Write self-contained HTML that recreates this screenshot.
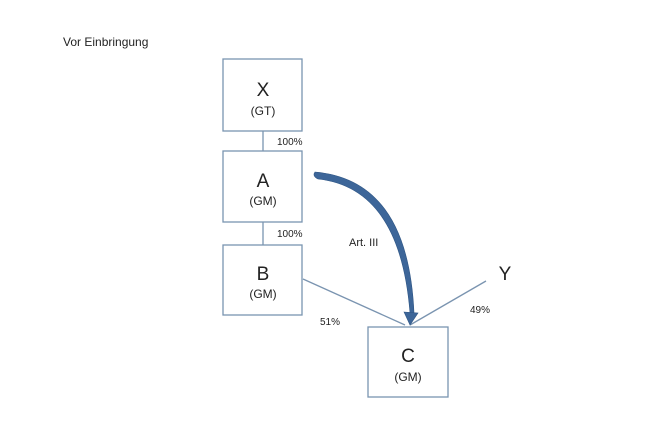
<!DOCTYPE html>
<html><head><meta charset="utf-8"><style>
body{margin:0;background:#fff;width:647px;height:443px;overflow:hidden}
svg{display:block}
text{font-family:"Liberation Sans",sans-serif;fill:#222}
</style></head><body>
<svg width="647" height="443" viewBox="0 0 647 443">
<text x="63" y="46" font-size="12">Vor Einbringung</text>
<g fill="none" stroke="#7a94b0" stroke-width="1.3">
<rect x="223" y="59" width="79" height="72"/>
<rect x="223" y="151" width="79" height="71"/>
<rect x="223" y="245" width="79" height="70"/>
<rect x="368" y="327" width="80" height="70"/>
<line x1="263" y1="131" x2="263" y2="151"/>
<line x1="263" y1="222" x2="263" y2="245"/>
<line x1="303" y1="279" x2="405" y2="325"/>
<line x1="486" y1="281" x2="410" y2="325"/>
</g>
<g text-anchor="middle">
<text x="263" y="96" font-size="19">X</text>
<text x="263" y="115" font-size="12">(GT)</text>
<text x="263" y="187" font-size="19">A</text>
<text x="263" y="205" font-size="12">(GM)</text>
<text x="263" y="280" font-size="19">B</text>
<text x="263" y="298" font-size="12">(GM)</text>
<text x="408" y="362" font-size="19">C</text>
<text x="408" y="381" font-size="12">(GM)</text>
<text x="505" y="280" font-size="19">Y</text>
</g>
<g font-size="10">
<text x="277" y="145">100%</text>
<text x="277" y="237">100%</text>
<text x="320" y="325">51%</text>
<text x="470" y="313">49%</text>
<text x="349" y="246" font-size="11">Art. III</text>
</g>
<path d="M315,172 Q408,180 414,313 L410,313 Q400,188 318,179 Q312,176 315,172Z" fill="#3d6699" stroke="#2e5584" stroke-width="0.6"/>
<polygon points="404,312 418,313 410,325" fill="#3d6699" stroke="#2e5584" stroke-width="0.6"/>
</svg>
</body></html>
